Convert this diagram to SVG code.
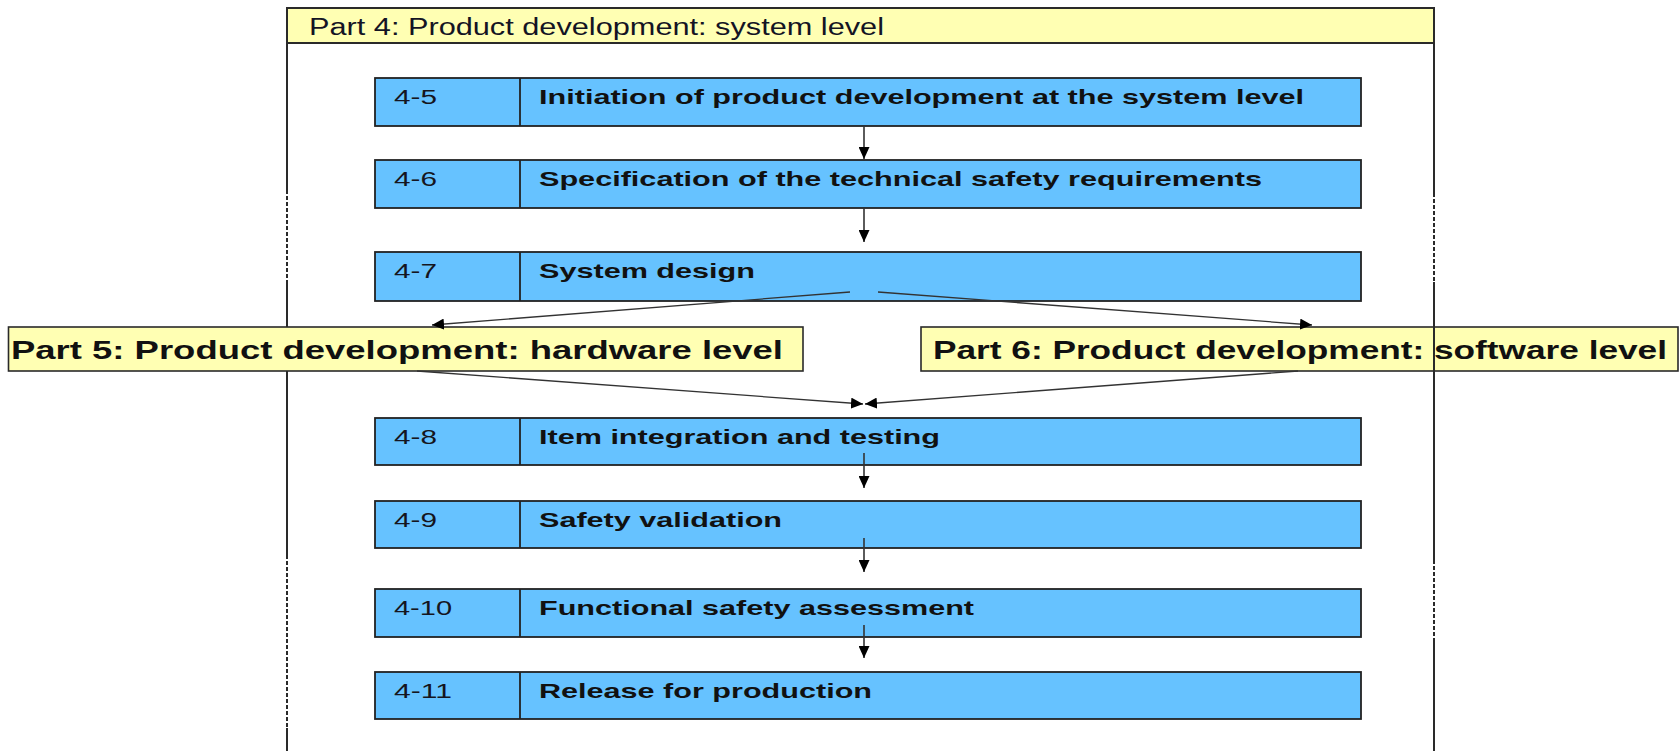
<svg xmlns="http://www.w3.org/2000/svg" width="1679" height="751" viewBox="0 0 1679 751">
<defs>
<style>
.frame{fill:none;stroke:#2a2a2a;stroke-width:2}
.dash{fill:none;stroke:#2a2a2a;stroke-width:2;stroke-dasharray:4 2}
.hdr{fill:#ffffb3;stroke:#2a2a2a;stroke-width:2}
.part{fill:#ffffb3;stroke:#2a2a2a;stroke-width:1.6}
.box{fill:#66c2ff;stroke:#222;stroke-width:1.8}
.div{stroke:#222;stroke-width:1.8}
.lbl{font-family:"Liberation Sans",Arial,sans-serif;font-size:20px;fill:#151520}
.ttl{font-family:"Liberation Sans",Arial,sans-serif;font-size:21px;font-weight:bold;fill:#111}
.htxt{font-family:"Liberation Sans",Arial,sans-serif;font-size:23px;fill:#141424}
.ptxt{font-family:"Liberation Sans",Arial,sans-serif;font-size:25px;font-weight:bold;fill:#111}
.conn{fill:none;stroke:#333;stroke-width:1.3}
.connv{fill:none;stroke:#333;stroke-width:1.6}
</style>
<marker id="ah" viewBox="0 0 12 11" refX="12" refY="5.5" markerWidth="12" markerHeight="11" markerUnits="userSpaceOnUse" orient="auto">
<path d="M0,0 L12,5.5 L0,11 z" fill="#000"/>
</marker>
</defs>
<rect width="1679" height="751" fill="#fff"/>

<g id="part4">
<line class="frame" x1="287" y1="43" x2="287" y2="190"/>
<line class="dash" x1="287" y1="190" x2="287" y2="282"/>
<line class="frame" x1="287" y1="282" x2="287" y2="555"/>
<line class="dash" x1="287" y1="555" x2="287" y2="728"/>
<line class="frame" x1="287" y1="728" x2="287" y2="751"/>
<line class="frame" x1="1434" y1="43" x2="1434" y2="193"/>
<line class="dash" x1="1434" y1="193" x2="1434" y2="282"/>
<line class="frame" x1="1434" y1="282" x2="1434" y2="560"/>
<line class="dash" x1="1434" y1="560" x2="1434" y2="638"/>
<line class="frame" x1="1434" y1="638" x2="1434" y2="751"/>
<rect class="hdr" x="287" y="8" width="1147" height="35"/>
<text class="htxt" x="309" y="35" textLength="575" lengthAdjust="spacingAndGlyphs">Part 4: Product development: system level</text>
</g>

<g id="n4-5">
<rect class="box" x="375" y="78" width="986" height="48"/>
<line class="div" x1="520" y1="78" x2="520" y2="126"/>
<text class="lbl" x="394" y="103.5" textLength="43" lengthAdjust="spacingAndGlyphs">4-5</text>
<text class="ttl" x="539" y="103.5" textLength="765" lengthAdjust="spacingAndGlyphs">Initiation of product development at the system level</text>
</g>
<g id="n4-6">
<rect class="box" x="375" y="160" width="986" height="48"/>
<line class="div" x1="520" y1="160" x2="520" y2="208"/>
<text class="lbl" x="394" y="185.5" textLength="43" lengthAdjust="spacingAndGlyphs">4-6</text>
<text class="ttl" x="539" y="185.5" textLength="723" lengthAdjust="spacingAndGlyphs">Specification of the technical safety requirements</text>
</g>
<g id="n4-7">
<rect class="box" x="375" y="252" width="986" height="49"/>
<line class="div" x1="520" y1="252" x2="520" y2="301"/>
<text class="lbl" x="394" y="277.5" textLength="43" lengthAdjust="spacingAndGlyphs">4-7</text>
<text class="ttl" x="539" y="277.5" textLength="216" lengthAdjust="spacingAndGlyphs">System design</text>
</g>
<g id="part5">
<rect class="part" x="8.5" y="327" width="794.5" height="44"/>
<text class="ptxt" x="11" y="359" textLength="772" lengthAdjust="spacingAndGlyphs">Part 5: Product development: hardware level</text>
</g>
<g id="part6">
<rect class="part" x="921" y="327" width="757" height="44"/>
<text class="ptxt" x="933" y="359" textLength="734" lengthAdjust="spacingAndGlyphs">Part 6: Product development: software level</text>
<line class="frame" x1="1434" y1="327" x2="1434" y2="371"/>
</g>
<g id="n4-8">
<rect class="box" x="375" y="418" width="986" height="47"/>
<line class="div" x1="520" y1="418" x2="520" y2="465"/>
<text class="lbl" x="394" y="443.5" textLength="43" lengthAdjust="spacingAndGlyphs">4-8</text>
<text class="ttl" x="539" y="443.5" textLength="401" lengthAdjust="spacingAndGlyphs">Item integration and testing</text>
</g>
<g id="n4-9">
<rect class="box" x="375" y="501" width="986" height="47"/>
<line class="div" x1="520" y1="501" x2="520" y2="548"/>
<text class="lbl" x="394" y="526.5" textLength="43" lengthAdjust="spacingAndGlyphs">4-9</text>
<text class="ttl" x="539" y="526.5" textLength="243" lengthAdjust="spacingAndGlyphs">Safety validation</text>
</g>
<g id="n4-10">
<rect class="box" x="375" y="589" width="986" height="48"/>
<line class="div" x1="520" y1="589" x2="520" y2="637"/>
<text class="lbl" x="394" y="614.5" textLength="58" lengthAdjust="spacingAndGlyphs">4-10</text>
<text class="ttl" x="539" y="614.5" textLength="435" lengthAdjust="spacingAndGlyphs">Functional safety assessment</text>
</g>
<g id="n4-11">
<rect class="box" x="375" y="672" width="986" height="47"/>
<line class="div" x1="520" y1="672" x2="520" y2="719"/>
<text class="lbl" x="394" y="697.5" textLength="58" lengthAdjust="spacingAndGlyphs">4-11</text>
<text class="ttl" x="539" y="697.5" textLength="333" lengthAdjust="spacingAndGlyphs">Release for production</text>
</g>

<g id="connectors">
<line class="connv" x1="864" y1="126" x2="864" y2="159" marker-end="url(#ah)"/>
<line class="connv" x1="864" y1="208" x2="864" y2="242" marker-end="url(#ah)"/>
<line class="conn" x1="850" y1="292" x2="432" y2="325" marker-end="url(#ah)"/>
<line class="conn" x1="878" y1="292" x2="1312" y2="325" marker-end="url(#ah)"/>
<line class="conn" x1="417" y1="371" x2="863" y2="404" marker-end="url(#ah)"/>
<line class="conn" x1="1298" y1="371" x2="865" y2="404" marker-end="url(#ah)"/>
<line class="connv" x1="864" y1="453" x2="864" y2="488" marker-end="url(#ah)"/>
<line class="connv" x1="864" y1="538" x2="864" y2="572" marker-end="url(#ah)"/>
<line class="connv" x1="864" y1="625" x2="864" y2="658" marker-end="url(#ah)"/>
</g>
</svg>
